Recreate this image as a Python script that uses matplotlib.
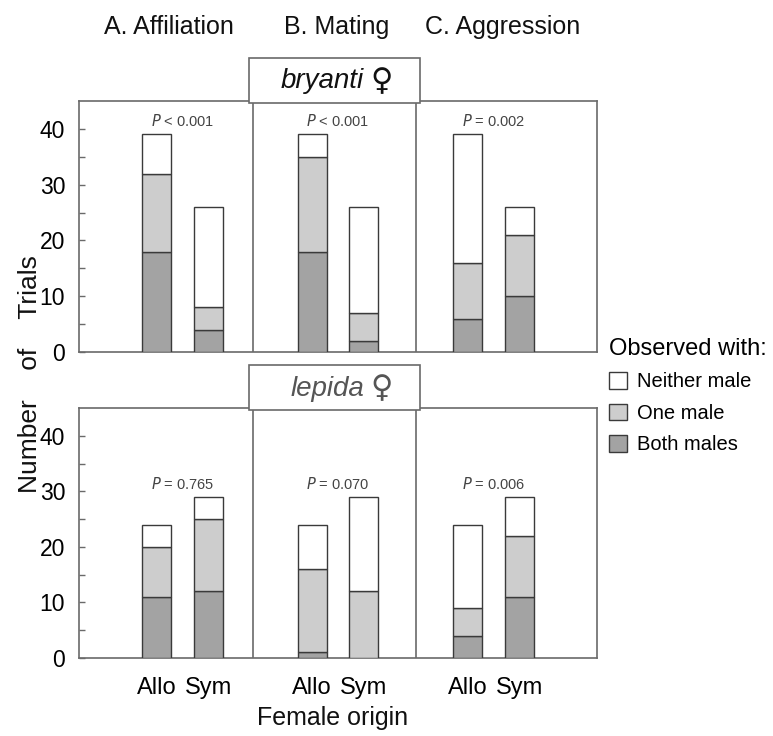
import matplotlib
matplotlib.use("Agg")
import matplotlib.pyplot as plt
from matplotlib.patches import Patch, Rectangle
import numpy as np

plt.rcParams['font.family'] = ['Liberation Sans', 'DejaVu Sans']

behaviours = ["A. Affiliation", "B. Mating", "C. Aggression"]
origins = ["Allo", "Sym"]
species = ["bryanti", "lepida"]
female_sign = "♀"
series = ["Neither male", "One male", "Both males"]

# order of bars: Affil Allo, Affil Sym, Mating Allo, Mating Sym, Aggr Allo, Aggr Sym
bryanti_both = [18, 4, 18, 2, 6, 10]
bryanti_one = [14, 4, 17, 5, 10, 11]
bryanti_neither = [7, 18, 4, 19, 23, 5]

lepida_both = [11, 12, 1, 0, 4, 11]
lepida_one = [9, 13, 15, 12, 5, 11]
lepida_neither = [4, 4, 8, 17, 15, 7]

bryanti_p = ["< 0.001", "< 0.001", "= 0.002"]
lepida_p = ["= 0.765", "= 0.070", "= 0.006"]

colors = {"Both males": "#a3a3a3", "One male": "#cdcdcd", "Neither male": "#ffffff"}
edge = "#3a3a3a"
spine_col = "#6a6a6a"

W, H = 773, 736
fig = plt.figure(figsize=(W / 100, H / 100), dpi=100)

def fx(px):
    return px / W

def fy(py):
    return 1 - py / H

ax_top = fig.add_axes([fx(79), fy(352), fx(597) - fx(79), fy(101) - fy(352)])
ax_bot = fig.add_axes([fx(79), fy(658), fx(597) - fx(79), fy(408) - fy(658)])

xpos = np.array([1.5, 2.5, 4.5, 5.5, 7.5, 8.5])
bw = 0.56
dividers = [3.35, 6.5]

panels = [
    (ax_top, bryanti_both, bryanti_one, bryanti_neither, bryanti_p, species[0], "#111111", 101),
    (ax_bot, lepida_both, lepida_one, lepida_neither, lepida_p, species[1], "#555555", 408),
]

for ax, both, one, neither, pvals, sp, spcol, toppx in panels:
    both = np.array(both)
    one = np.array(one)
    neither = np.array(neither)
    ax.bar(xpos, both, bw, color=colors["Both males"], edgecolor=edge, linewidth=1.0, zorder=3)
    ax.bar(xpos, one, bw, bottom=both, color=colors["One male"], edgecolor=edge, linewidth=1.0, zorder=3)
    ax.bar(xpos, neither, bw, bottom=both + one, color=colors["Neither male"], edgecolor=edge, linewidth=1.0, zorder=3)
    ax.set_xlim(0, 10)
    ax.set_ylim(0, 45)
    for d in dividers:
        ax.axvline(d, color=spine_col, linewidth=1.2, zorder=2)
    for s in ax.spines.values():
        s.set_color(spine_col)
        s.set_linewidth(1.2)
    ax.set_yticks([0, 10, 20, 30, 40])
    ax.set_yticks([5, 15, 25, 35], minor=True)
    ax.tick_params(axis='y', which='both', direction='in', length=4, width=1, color=spine_col,
                   labelsize=16.5, pad=10)
    totals = both + one + neither
    for g in range(3):
        m = max(totals[2 * g], totals[2 * g + 1])
        cx = (xpos[2 * g] + xpos[2 * g + 1]) / 2
        ax.text(cx, m + 2.4, r"$\it{P}$" + " " + pvals[g], ha='center', va='center',
                fontsize=10.5, color="#444444")
    # species label box
    bx0, bx1 = 249, 420
    by1 = toppx + 2
    by0 = toppx - 43
    rect = Rectangle((fx(bx0), fy(by1)), fx(bx1) - fx(bx0), fy(by0) - fy(by1),
                     transform=fig.transFigure, facecolor='white', edgecolor=spine_col,
                     linewidth=1.2, zorder=10)
    fig.patches.append(rect)
    cy = fy((by0 + by1) / 2 + 1)
    fig.text(fx(364), cy, sp, ha='right', va='center',
             fontsize=20, style='italic', color=spcol, zorder=11)
    fig.text(fx(370), cy, female_sign, ha='left', va='center',
             fontsize=22, color=spcol, zorder=11, family=['DejaVu Sans'])

ax_top.set_xticks([])
ax_bot.set_xticks(xpos)
ax_bot.set_xticklabels(origins * 3, fontsize=17)
ax_bot.tick_params(axis='x', length=0, pad=14)

# column titles
for name, cx in zip(behaviours, [169, 337, 503]):
    fig.text(fx(cx), fy(27), name, ha='center', va='center', fontsize=18, color="#111111")

fig.text(fx(333), fy(718), "Female origin", ha='center', va='center', fontsize=18, color="#111111")
fig.text(fx(30), fy(374), "Number    of    Trials", ha='center', va='center', rotation=90,
         fontsize=19, color="#111111")

handles = [Patch(facecolor=colors[s], edgecolor=edge, linewidth=1.0) for s in series]
leg = fig.legend(handles, series, loc='upper left', bbox_to_anchor=(fx(605), fy(334)),
                 frameon=False, fontsize=14.5, title="Observed with:", title_fontsize=17,
                 handlelength=0.9, handleheight=0.9, handletextpad=0.5, labelspacing=0.6,
                 borderaxespad=0, borderpad=0.2)
leg._legend_box.align = "left"

fig.savefig("out.png", dpi=100)
